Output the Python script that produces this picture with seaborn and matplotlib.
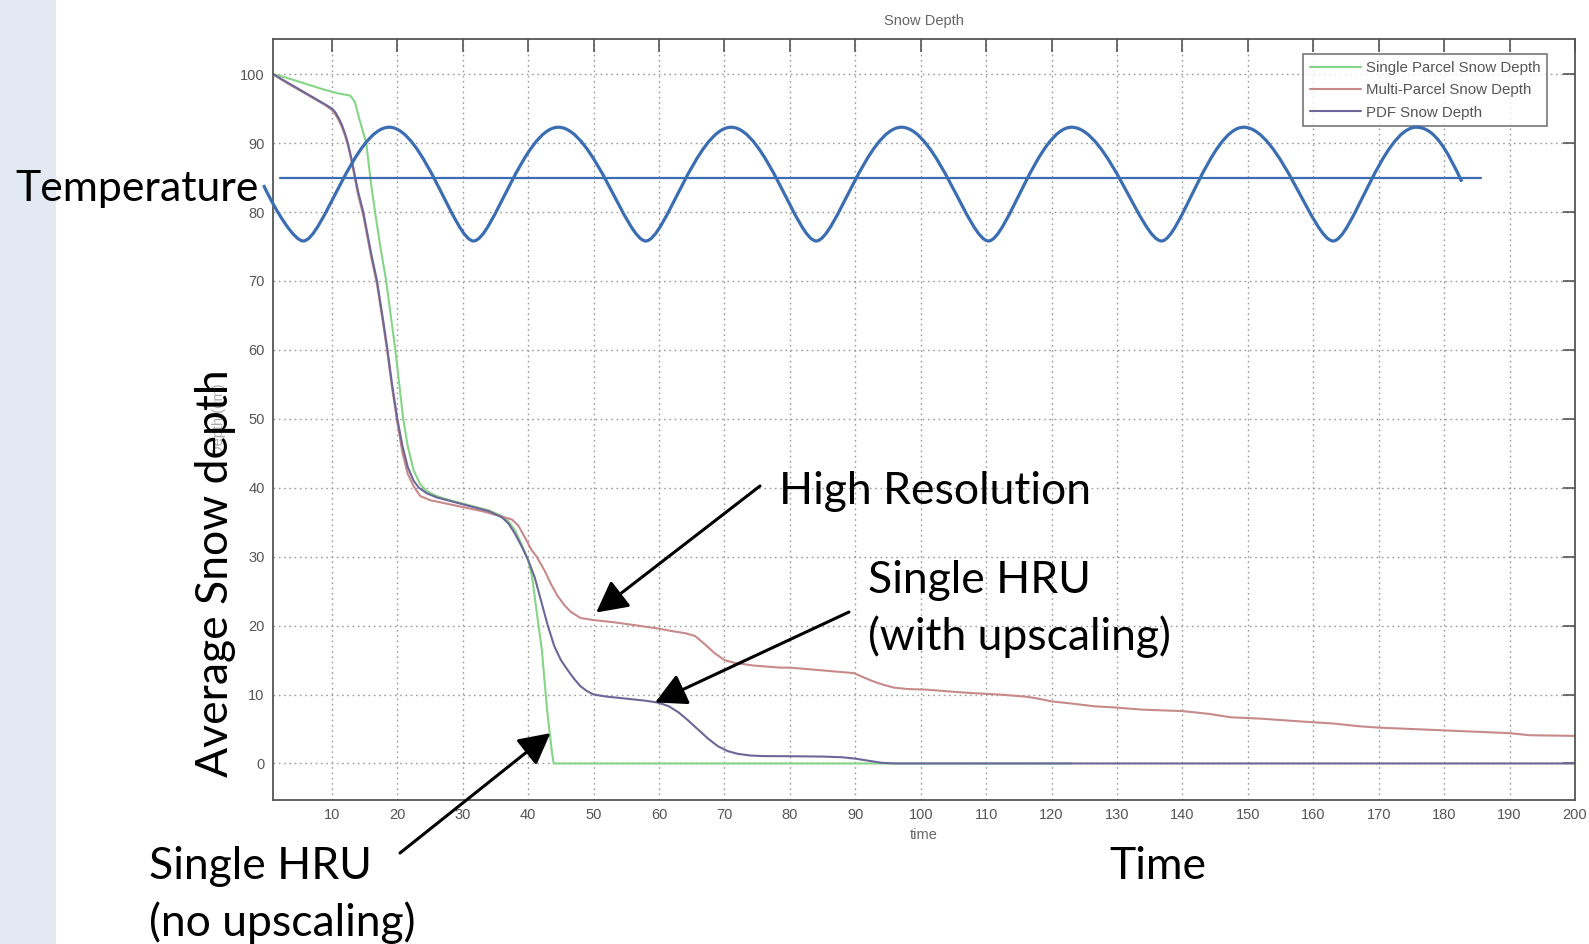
import matplotlib
matplotlib.use("Agg")
import matplotlib.pyplot as plt
from matplotlib.path import Path
from matplotlib.patches import PathPatch, Rectangle
import pandas as pd
import seaborn as sns

# ---------------- data ----------------
single_x = [1, 3, 5, 7, 9, 11, 12.8, 13.5, 14.2, 15.25, 16, 16.6, 17.4, 18.3, 19.0, 19.7,
            20.3, 20.9, 21.6, 22.5, 23.5, 24.5, 26, 28, 30, 32, 34, 36, 37, 38, 39, 40,
            40.6, 41.3, 42.1, 42.9, 43.6, 43.9, 60, 100, 123]
single_y = [100, 99.5, 98.9, 98.3, 97.7, 97.2, 96.9, 96.0, 93.5, 90, 84, 80, 75, 70, 65, 60,
            55, 50, 46, 42.5, 40.5, 39.5, 38.8, 38.2, 37.7, 37.2, 36.7, 35.9, 35.1, 33.8, 31.8, 29.5,
            27.1, 22, 16.4, 7.7, 1.9, 0, 0, 0, 0]

multi_x = [1, 3, 5, 7, 9, 10, 10.5, 11, 11.5, 12, 12.5, 13, 14, 14.8, 16, 16.9, 17.8, 18.5,
           19.2, 20, 20.8, 21.6, 22.5, 23.5, 25, 27, 30, 33, 36, 37.5, 38.5, 39.5, 40.5, 41.3,
           42.5, 43.5, 44.5, 45.5, 46.5, 48, 50, 53, 56, 59.7, 62, 64, 65.5, 67, 68.5, 70,
           71.5, 74.5, 78.6, 80, 85, 89.8, 91, 92.5, 94, 95.9, 98, 101, 105, 108, 112, 116,
           118, 120, 123, 126.5, 130, 134, 140, 144, 147.4, 152, 158, 163, 167, 170, 175,
           180, 185, 190, 193, 200]
multi_y = [100, 98.8, 97.7, 96.6, 95.5, 94.8, 94.2, 93.4, 92.4, 91.1, 89.5, 87.4, 82.5, 79.5,
           73.5, 69.5, 64, 59.5, 54.5, 49.5, 45, 42, 40.2, 38.8, 38.2, 37.8, 37.2, 36.6, 35.8,
           35.4, 34.5, 32.8, 31.0, 30.0, 28.0, 26.0, 24.3, 23.0, 22.0, 21.1, 20.8, 20.5, 20.1,
           19.6, 19.2, 18.9, 18.5, 17.3, 16.0, 15.0, 14.6, 14.2, 13.9, 13.9, 13.5, 13.1, 12.6,
           12.0, 11.5, 11.0, 10.8, 10.7, 10.4, 10.2, 10.0, 9.7, 9.4, 9.0, 8.7, 8.3, 8.1, 7.8,
           7.6, 7.2, 6.7, 6.5, 6.1, 5.8, 5.4, 5.2, 5.0, 4.8, 4.6, 4.4, 4.1, 4.0]

pdf_x = [1, 3, 5, 7, 9, 10, 10.5, 11, 11.5, 12, 12.5, 13, 14, 14.8, 16, 16.9, 17.8, 18.5,
         19.2, 20.0, 20.8, 21.6, 22.5, 23.3, 24.5, 26, 28, 30, 32, 34, 36, 37, 38, 39, 40,
         41, 42, 43, 44, 45, 46, 47, 48, 49, 50, 52, 55, 58, 60, 61.5, 63, 64.5, 66, 67.5,
         69, 70.5, 72, 74, 76, 80, 85, 88, 90, 92, 94, 96, 100, 200]
pdf_y = [100, 98.9, 97.8, 96.7, 95.6, 95.0, 94.5, 93.7, 92.7, 91.4, 89.8, 87.7, 83, 80, 74,
         70, 64.5, 60, 55, 50, 46, 43, 41, 40, 39.2, 38.6, 38.1, 37.6, 37.1, 36.6, 35.7, 34.8,
         33.3, 31.5, 29.5, 27.0, 23.5, 20.0, 17.0, 15.0, 13.6, 12.3, 11.2, 10.5, 10.0, 9.7,
         9.4, 9.1, 8.8, 8.3, 7.4, 6.2, 4.9, 3.6, 2.5, 1.8, 1.4, 1.15, 1.07, 1.05, 1.0, 0.9,
         0.7, 0.4, 0.1, 0.0, 0, 0]

series_labels = ["Single Parcel Snow Depth", "Multi-Parcel Snow Depth", "PDF Snow Depth"]

# temperature wave: start, alternating troughs / crests, end
temp_x = [-0.45, 5.62, 18.77, 31.66, 44.61, 57.99, 71.02, 84.03, 97.06, 110.36, 123.06,
          136.81, 149.36, 163.05, 175.75, 182.7]
temp_y = [83.9, 75.8, 92.3, 75.8, 92.3, 75.8, 92.3, 75.8, 92.3, 75.8, 92.3,
          75.8, 92.3, 75.8, 92.3, 84.4]
temp_level = 85.0
temp_level_x = [2.1, 185.6]

x_ticks = list(range(10, 201, 10))
y_ticks = list(range(0, 101, 10))

# arrow tips (data) for the callouts
tip_high = (50.4, 21.9)
tip_with = (59.4, 8.85)
tip_no = (43.4, 4.4)

# ---------------- styling ----------------
sns.set_style("white")
plt.rcParams["font.family"] = ["Liberation Sans", "DejaVu Sans"]

W, H = 1589, 944
fig = plt.figure(figsize=(W / 100, H / 100), dpi=100)
fig.patch.set_facecolor("white")
fig.patches.append(Rectangle((0, 0), 56 / W, 1, transform=fig.transFigure,
                             facecolor="#e3e9f3", edgecolor="none", zorder=0))


def fpx(x, y_top):
    """Figure pixel position measured from the top-left corner."""
    return (x, H - y_top)


ax = fig.add_axes([273 / W, 1 - 800 / H, (1575 - 273) / W, (800 - 39) / H])

green, red, purple = "#86d486", "#c78a8a", "#6c6699"
frames = [
    pd.DataFrame({"time": single_x, "depth": single_y}),
    pd.DataFrame({"time": multi_x, "depth": multi_y}),
    pd.DataFrame({"time": pdf_x, "depth": pdf_y}),
]
for df, col, lab in zip(frames, [green, red, purple], series_labels):
    sns.lineplot(data=df, x="time", y="depth", ax=ax, color=col, lw=1.5,
                 label=lab, sort=False, estimator=None)

ax.set_xlim(1, 200)
ax.set_ylim(-5.3, 105.1)
ax.set_xticks(x_ticks)
ax.set_yticks(y_ticks)
ax.tick_params(direction="in", length=9, width=1.2, top=True, right=True,
               color="#555555", labelcolor="#555555", labelsize=10.5, pad=6)
ax.grid(True, linestyle=(0, (1.2, 2.6)), color="#9a9a9a", lw=1.0)
for sp in ax.spines.values():
    sp.set_color("#555555")
    sp.set_linewidth(1.3)

ax.set_title("Snow Depth", fontsize=10.5, color="#666666", pad=10)
ax.set_xlabel("time", fontsize=10.5, color="#666666", labelpad=4)
ax.set_ylabel("Depth (cm)", fontsize=10.5, color="#aaaaaa", labelpad=10)

leg = ax.legend(loc="upper right", bbox_to_anchor=(1547 / W, 1 - 54 / H),
                bbox_transform=fig.transFigure, borderaxespad=0, frameon=True,
                fancybox=False, edgecolor="#555555", fontsize=10.8,
                handlelength=3.4, handletextpad=0.3, labelspacing=0.56,
                borderpad=0.45, labelcolor="#555555")
leg.get_frame().set_linewidth(1.2)

# temperature curve drawn as a smooth bezier through the wave extremes
blue = "#3b6db3"
verts = [(temp_x[0], temp_y[0])]
codes = [Path.MOVETO]
end_slope = -2.0
for i in range(len(temp_x) - 1):
    x0, y0, x1, y1 = temp_x[i], temp_y[i], temp_x[i + 1], temp_y[i + 1]
    h = x1 - x0

    def handle(k, yk):
        if k == 0 or k == len(temp_x) - 1:
            return h / 3, end_slope * h / 3
        return (0.40 if yk > temp_level else 0.22) * h, 0.0

    dx0, dy0 = handle(i, y0)
    dx1, dy1 = handle(i + 1, y1)
    verts += [(x0 + dx0, y0 + dy0), (x1 - dx1, y1 - dy1), (x1, y1)]
    codes += [Path.CURVE4] * 3
wave = PathPatch(Path(verts, codes), transform=ax.transData, fill=False,
                 edgecolor=blue, lw=2.3, zorder=6)
wave.set_clip_on(False)
ax.add_patch(wave)
ax.plot(temp_level_x, [temp_level, temp_level], color=blue, lw=1.6,
        clip_on=False, zorder=6)
ax.set_xlim(1, 200)
ax.set_ylim(-5.3, 105.1)

# callouts
big = dict(fontsize=32, family=["Lato", "DejaVu Sans"], color="black")
fig.text(15 / W, 1 - 201 / H, "Temperature", ha="left", va="baseline",
         **{**big, "fontsize": 30.8})
fig.text(779 / W, 1 - 504 / H, "High Resolution", ha="left", va="baseline", **big)
fig.text(868 / W, 1 - 593 / H, "Single HRU", ha="left", va="baseline", **big)
fig.text(868 / W, 1 - 650 / H, "(with upscaling)", ha="left", va="baseline", **big)
fig.text(149 / W, 1 - 879 / H, "Single HRU", ha="left", va="baseline", **big)
fig.text(149 / W, 1 - 936 / H, "(no upscaling)", ha="left", va="baseline", **big)
fig.text(1109 / W, 1 - 879 / H, "Time", ha="left", va="baseline", **big)
fig.text(216 / W, 1 - 573 / H, "Average Snow depth", ha="center", va="center",
         rotation=90, **big)

arrow = dict(arrowstyle="-|>,head_length=1.9,head_width=1.0", color="black",
             lw=2.2, shrinkA=0, shrinkB=0, mutation_scale=10)
for tip, tail in [(tip_high, (760, 486)), (tip_with, (849, 612)), (tip_no, (400, 853))]:
    ax.annotate("", xy=tip, xycoords="data", xytext=fpx(*tail),
                textcoords="figure pixels", arrowprops=arrow, annotation_clip=False)

fig.savefig("out.png", dpi=100)
